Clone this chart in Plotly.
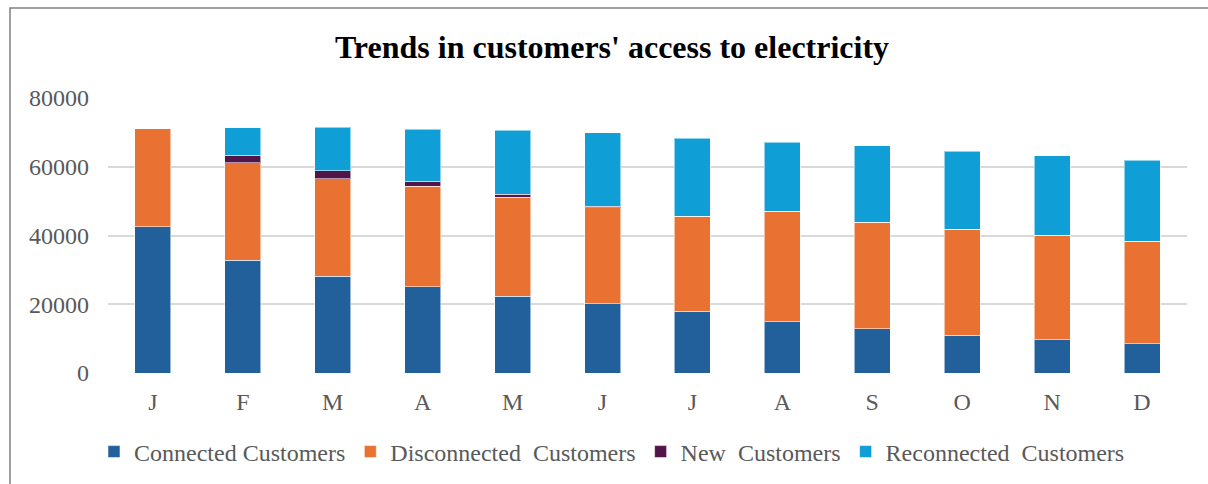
import plotly.graph_objects as go

months = ["Jan", "Feb", "Mar", "Apr", "May", "Jun", "Jul", "Aug", "Sep", "Oct", "Nov", "Dec"]
month_labels = ["J", "F", "M", "A", "M", "J", "J", "A", "S", "O", "N", "D"]

connected = [42600, 32800, 28100, 25100, 22300, 20200, 17900, 14900, 12900, 11000, 9700, 8450]
disconnected = [28400, 28400, 28350, 29200, 28800, 27900, 27700, 32100, 31000, 30800, 30350, 29850]
new_customers = [0, 2100, 2400, 1450, 900, 400, 0, 0, 0, 0, 0, 0]
reconnected = [0, 8000, 12700, 15200, 18600, 21400, 22700, 20100, 22200, 22700, 23100, 23600]

series = [
    ("Connected Customers", connected, "#21609B"),
    ("Disconnected\u00a0 Customers", disconnected, "#E97132"),
    ("New\u00a0 Customers", new_customers, "#521549"),
    ("Reconnected\u00a0 Customers", reconnected, "#0F9ED5"),
]

fig = go.Figure()
for name, vals, color in series:
    fig.add_trace(go.Bar(
        x=months, y=vals, name=name,
        marker=dict(color=color, line=dict(color="rgba(255,255,255,0.55)", width=1)),
        width=0.4,
    ))

font_family = "Liberation Serif, Times New Roman, serif"

fig.update_layout(
    barmode="stack",
    width=1208, height=484,
    margin=dict(l=108, r=21, t=98, b=111),
    paper_bgcolor="white",
    plot_bgcolor="white",
    font=dict(family=font_family, size=24, color="#595959"),
    title=dict(
        text="<b>Trends in customers' access to electricity</b>",
        font=dict(family=font_family, size=32, color="black"),
        xref="container", x=612 / 1208, xanchor="center",
        yref="container", y=1 - 47 / 484, yanchor="middle",
    ),
    xaxis=dict(
        categoryorder="array", categoryarray=months,
        tickmode="array", tickvals=months, ticktext=month_labels,
        showgrid=False, showline=False, zeroline=False,
        ticks="", ticklabelstandoff=12,
        tickfont=dict(size=24, color="#595959"),
    ),
    yaxis=dict(
        range=[0, 80000], tickvals=[0, 20000, 40000, 60000, 80000],
        tickformat="d",
        showgrid=True, gridcolor="#d9d9d9", gridwidth=2,
        zeroline=False, showline=False, ticks="",
        ticklabelstandoff=18,
        tickfont=dict(size=24, color="#595959"),
    ),
    legend=dict(
        orientation="h",
        xref="container", x=612 / 1208, xanchor="center",
        yref="container", y=(484 - 452) / 484, yanchor="middle",
        font=dict(size=24, color="#595959"),
        traceorder="normal",
        bgcolor="rgba(0,0,0,0)",
    ),
    showlegend=True,
    shapes=[dict(
        type="rect", xref="paper", yref="paper",
        x0=(10 - 108) / 1079, x1=(1215 - 108) / 1079,
        y0=-(495 - 373) / 275, y1=1 + (98 - 8) / 275,
        line=dict(color="#808080", width=1.5), fillcolor="rgba(0,0,0,0)",
        layer="below",
    )],
)

fig.write_html("out.html")
